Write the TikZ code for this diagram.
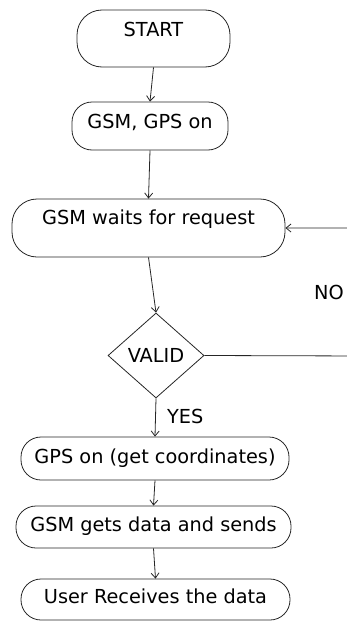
\documentclass[tikz,border=0pt]{standalone}
\usepackage{fontspec}
\setmainfont{DejaVu Sans}
\usetikzlibrary{shapes.geometric, arrows.meta}

\tikzset{
  flowbox/.style={draw=black!85, line width=0.8pt, rounded corners=20pt,
                  inner sep=0pt, font=\fontsize{19.3}{23}\selectfont},
  validbox/.style={draw=black!85, line width=0.8pt, diamond, inner sep=0pt,
                  font=\fontsize{19.3}{23}\selectfont},
  flowlabel/.style={inner sep=0pt, font=\fontsize{19.3}{23}\selectfont},
  flowarrow/.style={draw=black!85, line width=0.8pt,
                  -{Straight Barb[length=5pt,width=8pt]}}
}

\begin{document}
\begin{tikzpicture}[x=1pt, y=-1pt]
  \useasboundingbox (0,0) rectangle (347,621);
  \clip (0,0) rectangle (347,621);
  % 流程框
  \node[flowbox, rounded corners=25pt, minimum width=153pt, text height=26pt, text depth=31pt, anchor=base]
    (start) at (153.5,36) {START};
  \node[flowbox, minimum width=156pt, text height=26pt, text depth=22pt, anchor=base]
    (gsmgps) at (150,128) {GSM, GPS on};
  \node[flowbox, rounded corners=25pt, minimum width=273pt, text height=25pt, text depth=33pt, anchor=base]
    (waits) at (148.5,224) {GSM waits for request};
  \node[validbox, minimum width=96pt, minimum height=85pt, aspect=1.13]
    (valid) at (156,355.5) {VALID};
  \node[flowbox, minimum width=268pt, text height=26pt, text depth=17pt, anchor=base]
    (gpson) at (155,463) {GPS on (get coordinates)};
  \node[flowbox, minimum width=275pt, text height=25pt, text depth=17pt, anchor=base]
    (gsmsend) at (153.5,531) {GSM gets data and sends};
  \node[flowbox, minimum width=269pt, text height=24pt, text depth=17pt, anchor=base]
    (user) at (155.5,603) {User Receives the data};
  % 标签
  \node[flowlabel, anchor=base west] (yes) at (167,423) {YES};
  \node[flowlabel, anchor=base west] (no) at (314,299) {NO};
  \coordinate (noright) at (365,356);
  % 连线
  \draw[flowarrow] (start.south) -- (gsmgps.north);
  \draw[flowarrow] (gsmgps.south) -- (waits.north);
  \draw[flowarrow] (waits.south) -- (valid.north);
  \draw[flowarrow] (valid.south) -- (gpson.north);
  \draw[flowarrow] (gpson.south) -- (gsmsend.north);
  \draw[flowarrow] (gsmsend.south) -- (user.north);
  \draw[flowarrow] (valid.east) -- (noright) |- (waits.east);
\end{tikzpicture}
\end{document}
